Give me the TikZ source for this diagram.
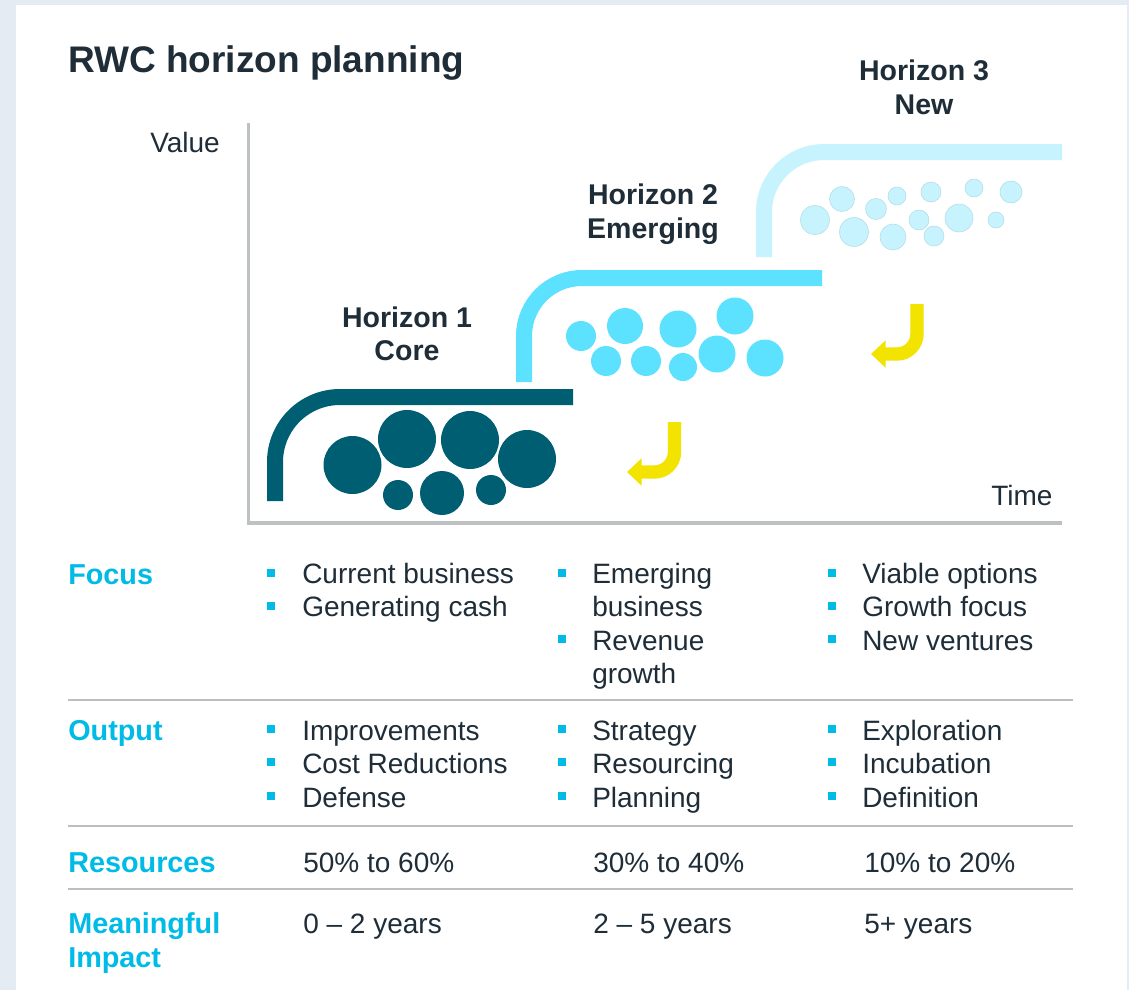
\documentclass[tikz,border=0pt]{standalone}
\usepackage{fontspec}
\setmainfont{Liberation Sans}
\usetikzlibrary{arrows.meta}
\definecolor{bg}{HTML}{E4EBF2}
\definecolor{ink}{HTML}{1E2D38}
\definecolor{cyanh}{HTML}{00BBE6}
\definecolor{hone}{HTML}{005E72}
\definecolor{htwo}{HTML}{5CE1FF}
\definecolor{hthree}{HTML}{C6F3FD}
\definecolor{hthreeedge}{HTML}{B2DCE6}
\definecolor{yel}{HTML}{F2E300}
\definecolor{axisgray}{HTML}{BEC1C1}
\definecolor{rulegray}{HTML}{BDBFBF}
\begin{document}
\begin{tikzpicture}[x=0.75pt,y=-0.75pt,
  txt/.style={anchor=base west, inner sep=0pt, text=ink, font=\fontsize{21}{25}\selectfont},
  head/.style={anchor=base west, inner sep=0pt, text=cyanh, font=\bfseries\fontsize{21.6}{25}\selectfont},
  hz/.style={anchor=base, inner sep=0pt, text=ink, font=\bfseries\fontsize{21.4}{25}\selectfont},
  bul/.style={fill=cyanh, minimum size=6.4pt, inner sep=0pt, draw=none, shape=rectangle},
  rule/.style={draw=rulegray, line width=1.5pt},
  axisline/.style={draw=axisgray, line width=2.3pt},
  hline/.style={line width=12pt, line cap=butt},
  yarrow/.style={draw=yel, line width=10pt, rounded corners=15pt, line cap=butt,
     -{Triangle[length=11pt, width=20pt]}},
  ]
\useasboundingbox (0,0) rectangle (1129,990);
\fill[bg] (0,0) rectangle (1129,990);
\fill[white] (16,5) rectangle (1127,990);

% title
\node[anchor=base west, inner sep=0pt, text=ink, font=\bfseries\fontsize{27.75}{33}\selectfont] (title) at (68,72) {RWC horizon planning};

% axes
\coordinate (ytop) at (248.5,123);
\coordinate (origin) at (248.5,523);
\coordinate (xend) at (1062,523);
\draw[axisline] (ytop) -- (origin) -- (xend);
\node[txt] (value) at (150,152) {Value};
\node[txt] (time) at (991,505) {Time};

% horizon curves
\draw[hline, draw=hthree, rounded corners=45pt] (764,257) -- (764,152) -- (1062,152);
\draw[hline, draw=htwo, rounded corners=43.5pt] (524,382) -- (524,278) -- (822,278);
\draw[hline, draw=hone, rounded corners=48.75pt] (275,501) -- (275,397) -- (573,397);

% H1 circles
\fill[hone] (352.5,465) circle (29) (407,439) circle (29) (470,440) circle (29)
  (527,459) circle (29) (398,495) circle (15) (442,493) circle (22) (491,490) circle (15);

% H2 circles
\fill[htwo] (581,336) circle (15) (625,326) circle (18) (678,329) circle (18.5)
  (735,316) circle (18.5) (606,361) circle (15) (646,361) circle (15)
  (683,367) circle (14) (717,354) circle (18.5) (765,358) circle (18.5);

% H3 circles
\filldraw[fill=hthree, draw=hthreeedge, line width=0.4pt]
  (815,220) circle (14.5) (842,199) circle (12.5) (854,232) circle (14.5)
  (876,209) circle (10.5) (897,196) circle (9) (893,237) circle (13)
  (919,220) circle (10) (931,192) circle (10) (934,236) circle (10)
  (959,218) circle (14) (974,188) circle (9) (996,220) circle (8) (1011,192) circle (11);

% yellow arrows
\coordinate (a1s) at (674.5,422);
\coordinate (a1c) at (674.5,472);
\coordinate (a1e) at (627,472);
\draw[yarrow] (a1s) -- (a1c) -- (a1e);
\coordinate (a2s) at (917,304);
\coordinate (a2c) at (917,354);
\coordinate (a2e) at (871,354);
\draw[yarrow] (a2s) -- (a2c) -- (a2e);

% horizon labels
\node[hz] (h1a) at (407,327) {Horizon 1};
\node[hz] (h1b) at (407,360) {Core};
\node[hz] (h2a) at (653,204) {Horizon 2};
\node[hz] (h2b) at (653,238) {Emerging};
\node[hz] (h3a) at (924,80) {Horizon 3};
\node[hz] (h3b) at (924,114) {New};

% table rules
\draw[rule] (68,700) coordinate (r1a) -- (1073,700) coordinate (r1b);
\draw[rule] (68,826) coordinate (r2a) -- (1073,826) coordinate (r2b);
\draw[rule] (68,889) coordinate (r3a) -- (1073,889) coordinate (r3b);

% headings
\node[head] (focus) at (68,584) {Focus};
\node[head] (output) at (68,740) {Output};
\node[head] (resources) at (68,872) {Resources};
\node[head] (mean1) at (68,933) {Meaningful};
\node[head] (mean2) at (68,967) {Impact};

% Focus row
\node[bul] (fb1) at (271,573) {};
\node[txt] (f11) at (302,583) {Current business};
\node[bul] (fb2) at (271,606) {};
\node[txt] (f12) at (302,616) {Generating cash};
\node[bul] (fb3) at (562,573) {};
\node[txt] (f21) at (592,583) {Emerging};
\node[txt] (f22) at (592,616) {business};
\node[bul] (fb4) at (562,639) {};
\node[txt] (f23) at (592,650) {Revenue};
\node[txt] (f24) at (592,683) {growth};
\node[bul] (fb5) at (832,573) {};
\node[txt] (f31) at (862,583) {Viable options};
\node[bul] (fb6) at (832,606) {};
\node[txt] (f32) at (862,616) {Growth focus};
\node[bul] (fb7) at (832,639) {};
\node[txt] (f33) at (862,650) {New ventures};

% Output row
\node[bul] (ob1) at (271,729) {};
\node[txt] (o11) at (302,740) {Improvements};
\node[bul] (ob2) at (271,762) {};
\node[txt] (o12) at (302,773) {Cost Reductions};
\node[bul] (ob3) at (271,796) {};
\node[txt] (o13) at (302,807) {Defense};
\node[bul] (ob4) at (562,729) {};
\node[txt] (o21) at (592,740) {Strategy};
\node[bul] (ob5) at (562,762) {};
\node[txt] (o22) at (592,773) {Resourcing};
\node[bul] (ob6) at (562,796) {};
\node[txt] (o23) at (592,807) {Planning};
\node[bul] (ob7) at (832,729) {};
\node[txt] (o31) at (862,740) {Exploration};
\node[bul] (ob8) at (832,762) {};
\node[txt] (o32) at (862,773) {Incubation};
\node[bul] (ob9) at (832,796) {};
\node[txt] (o33) at (862,807) {Definition};

% Resources row
\node[txt] (res1) at (303,872) {50\% to 60\%};
\node[txt] (res2) at (593,872) {30\% to 40\%};
\node[txt] (res3) at (864,872) {10\% to 20\%};

% Impact row
\node[txt] (imp1) at (303,933) {0 – 2 years};
\node[txt] (imp2) at (593,933) {2 – 5 years};
\node[txt] (imp3) at (864,933) {5+ years};
\end{tikzpicture}
\end{document}
